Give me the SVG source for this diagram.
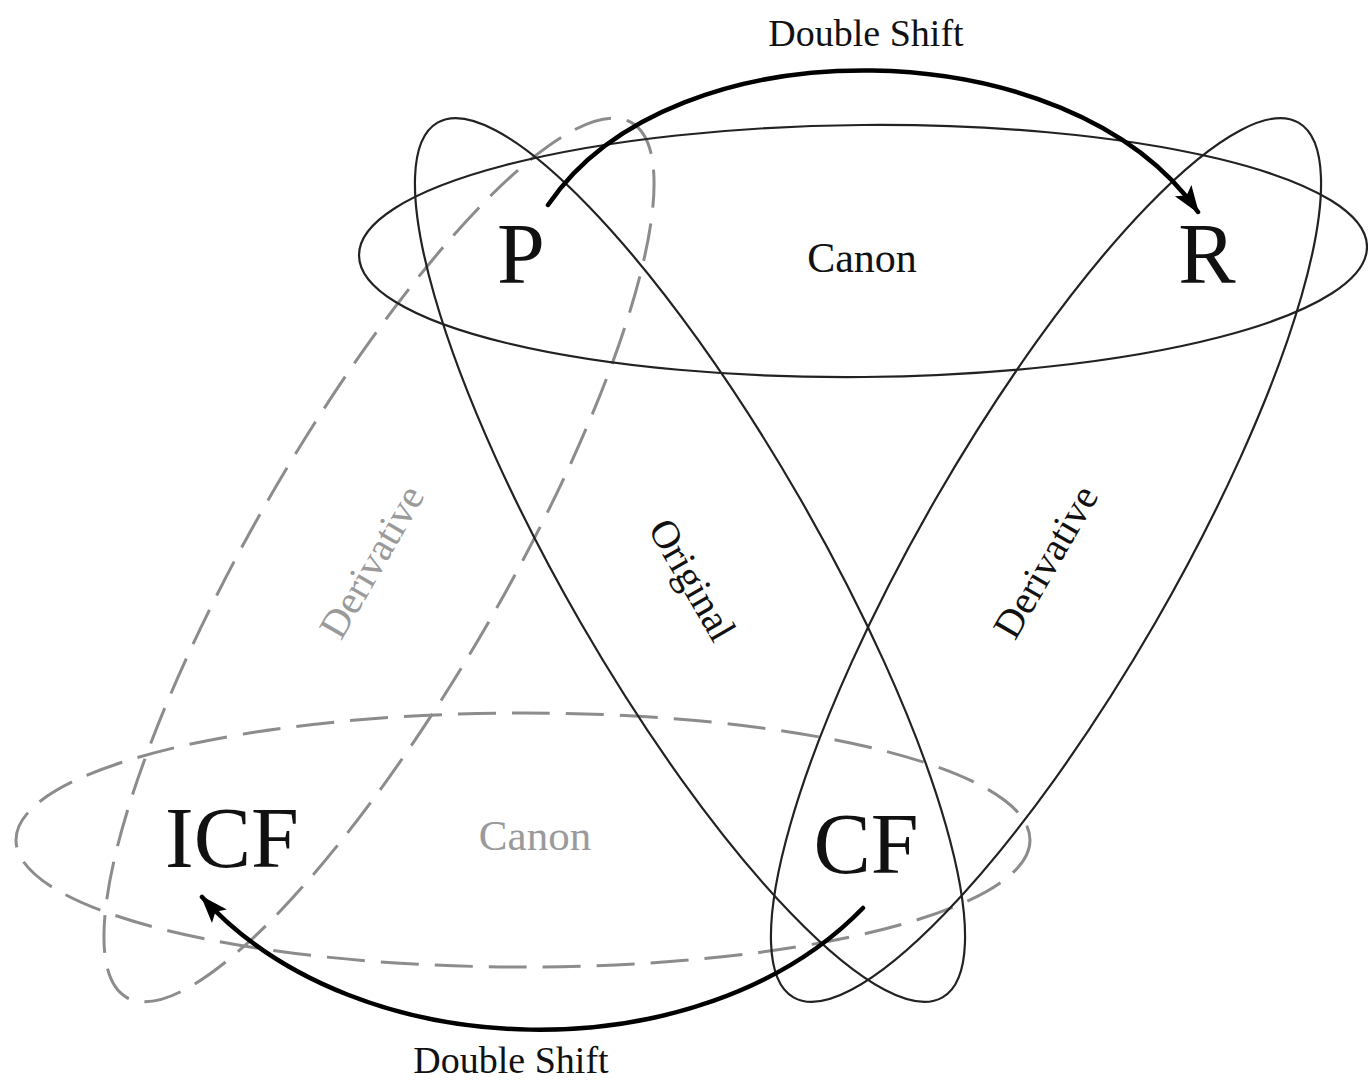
<svg xmlns="http://www.w3.org/2000/svg" width="1368" height="1080" viewBox="0 0 1368 1080">
  <defs>
    <style>
      .solid { fill: none; stroke: #222; stroke-width: 2.2; }
      .dashed { fill: none; stroke: #8c8c8c; stroke-width: 3; stroke-dasharray: 38 16; }
      .arrow { fill: none; stroke: #000; stroke-width: 4.5; stroke-linecap: round; }
      .big { font-family: "Liberation Serif", serif; font-size: 86px; fill: #111; text-anchor: middle; }
      .lbl { font-family: "Liberation Serif", serif; font-size: 40px; fill: #111; text-anchor: middle; }
      .glbl { font-family: "Liberation Serif", serif; font-size: 40px; fill: #9a9a9a; text-anchor: middle; }
      .ds { font-family: "Liberation Serif", serif; font-size: 38px; fill: #111; text-anchor: middle; }
    </style>
    <marker id="head" markerUnits="userSpaceOnUse" markerWidth="30" markerHeight="24" refX="26" refY="12" orient="auto">
      <path d="M0,2 L28,12 L0,22 L6,12 Z" fill="#000"/>
    </marker>
  </defs>
  <rect width="1368" height="1080" fill="#fff"/>

  <g id="canon-bottom">
    <ellipse class="dashed" cx="523" cy="840" rx="507" ry="127"/>
    <text class="glbl" x="535" y="850" style="font-size:43px">Canon</text>
  </g>
  <g id="derivative-left">
    <ellipse class="dashed" cx="379" cy="560" rx="505" ry="126" transform="rotate(-60 379 560)"/>
    <text class="glbl" x="372" y="562" transform="rotate(-60 372 562)" dy="13">Derivative</text>
  </g>
  <g id="canon-top">
    <ellipse class="solid" cx="863" cy="251" rx="504" ry="126" transform="rotate(-0.5 863 251)"/>
    <text class="lbl" x="862" y="272" style="font-size:42px">Canon</text>
  </g>
  <g id="original">
    <ellipse class="solid" cx="690" cy="560" rx="505" ry="126" transform="rotate(60 690 560)"/>
    <text class="lbl" x="692" y="580" transform="rotate(60 692 580)" dy="13">Original</text>
  </g>
  <g id="derivative-right">
    <ellipse class="solid" cx="1046" cy="560" rx="505" ry="126" transform="rotate(-60 1046 560)"/>
    <text class="lbl" x="1046" y="562" transform="rotate(-60 1046 562)" dy="13">Derivative</text>
  </g>

  <g id="node-P"><text class="big" x="521" y="283">P</text></g>
  <g id="node-R"><text class="big" x="1207" y="283">R</text></g>
  <g id="node-ICF"><text class="big" x="232" y="867">ICF</text></g>
  <g id="node-CF"><text class="big" x="866" y="873">CF</text></g>

  <g id="connectors">
    <path class="arrow" d="M548,205 C673,20 1071,29 1198,212" marker-end="url(#head)"/>
    <text class="ds" x="866" y="46">Double Shift</text>
    <path class="arrow" d="M863,908 C701,1075 357,1069 202,897" marker-end="url(#head)"/>
    <text class="ds" x="511" y="1073">Double Shift</text>
  </g>
</svg>
